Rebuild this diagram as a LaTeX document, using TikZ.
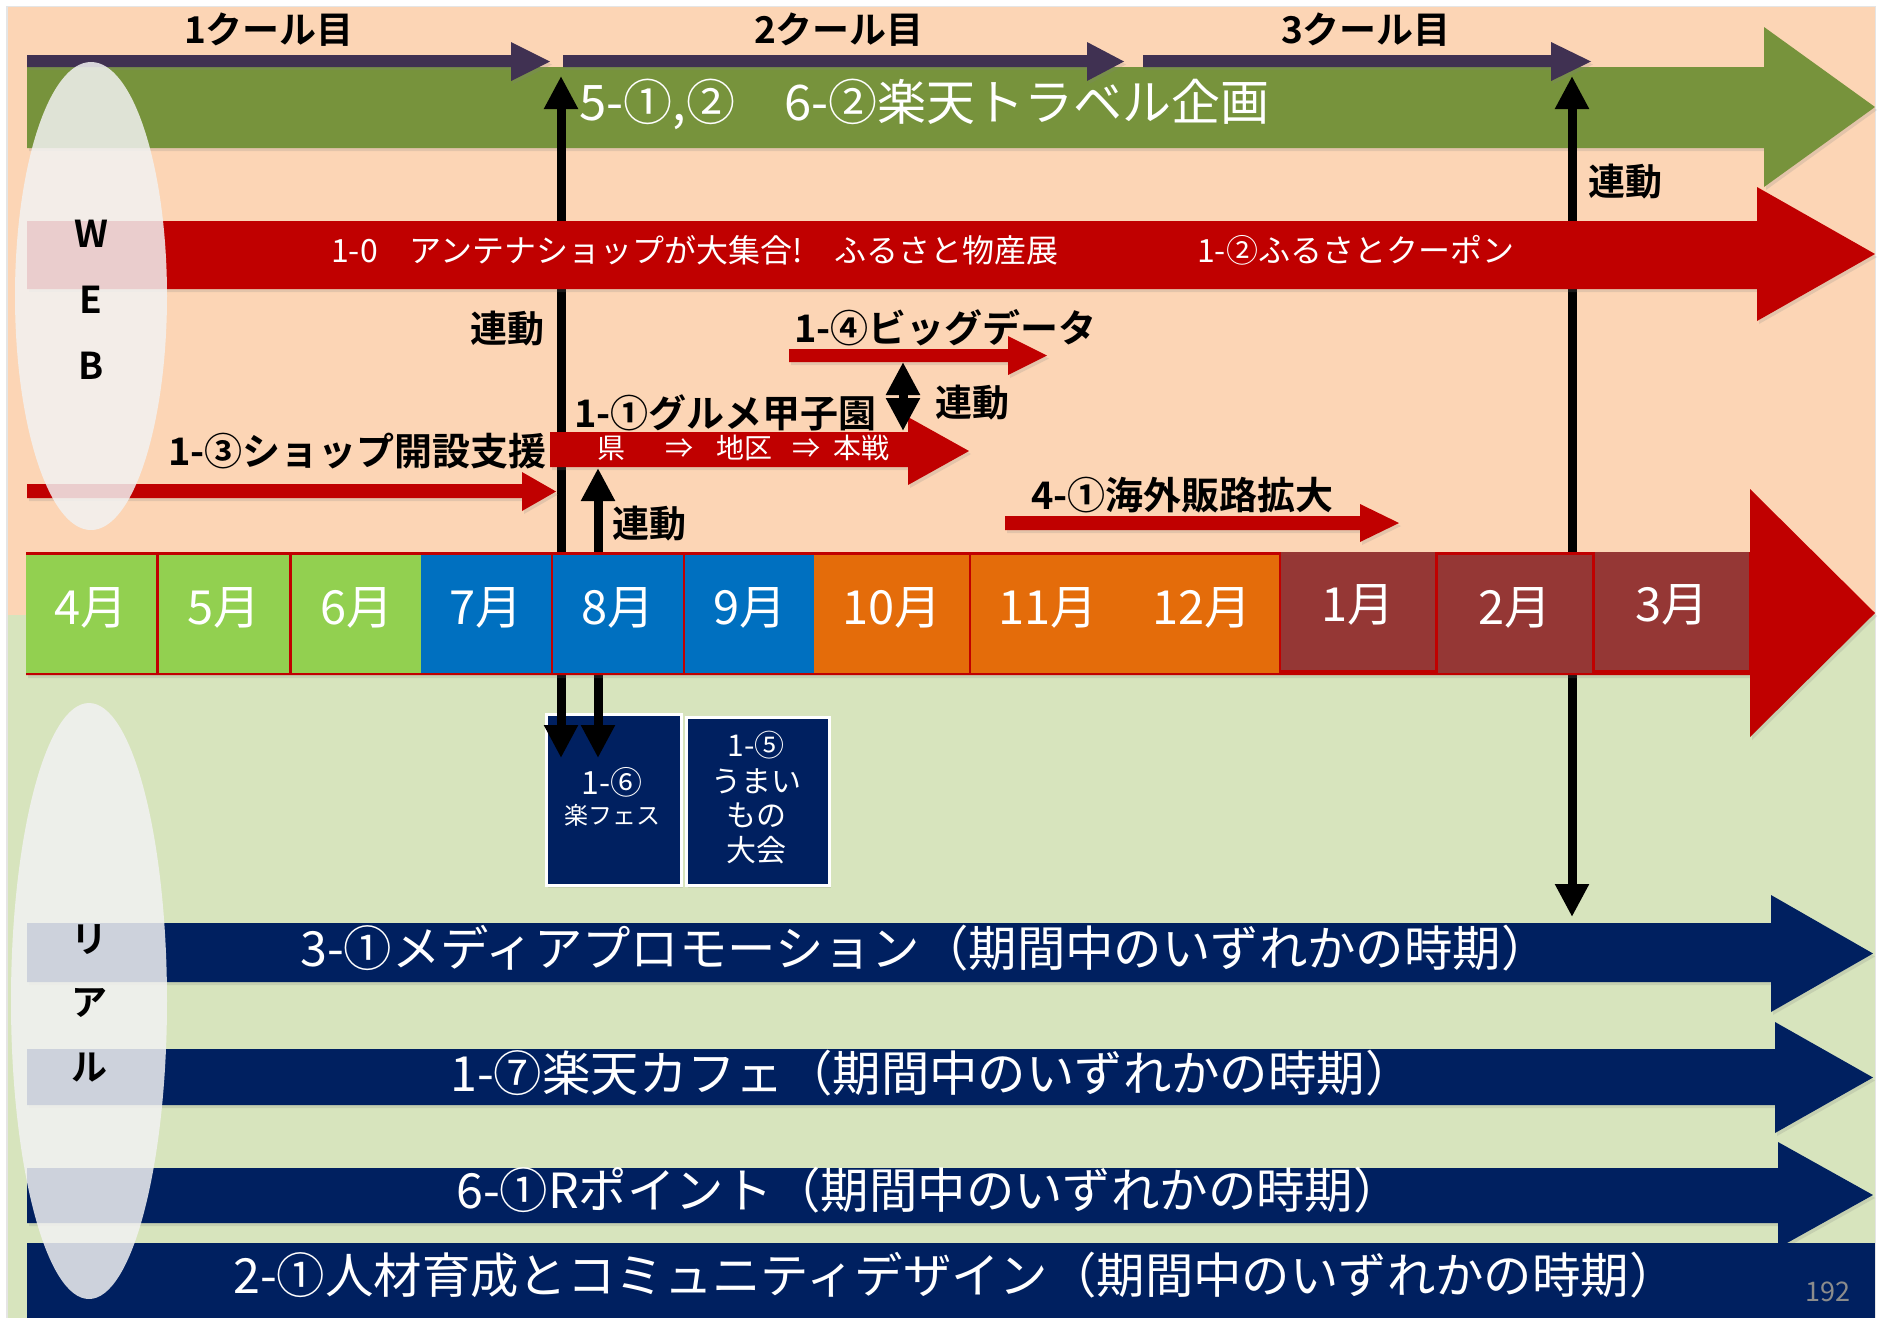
\documentclass[tikz,border=0pt]{standalone}
\usepackage{fontspec}
\setmainfont{Noto Sans CJK JP}[BoldFont={Noto Sans CJK JP Bold}]
\usetikzlibrary{arrows.meta,shadows}
\definecolor{peach}{HTML}{FCD5B5}
\definecolor{lgreen}{HTML}{D7E4BD}
\definecolor{ogreen}{HTML}{77933C}
\definecolor{purp}{HTML}{403152}
\definecolor{red0}{HTML}{C00000}
\definecolor{navy}{HTML}{002060}
\definecolor{mgreen}{HTML}{92D050}
\definecolor{mblue}{HTML}{0070C0}
\definecolor{morange}{HTML}{E46C0A}
\definecolor{mbrown}{HTML}{953735}
\definecolor{ellc}{HTML}{F2F2F2}
\definecolor{pgray}{HTML}{8C8C8C}
\newcommand\fs[1]{\fontsize{#1}{#1}\selectfont}
\newcommand\harr[7]{(#1,#4) -- (#2,#4) -- (#2,#6) -- (#3,{(#6+#7)/2}) -- (#2,#7) -- (#2,#5) -- (#1,#5) -- cycle}
\newcommand\mcell[7]{%
  \node[mcellbox, fill=#6, minimum width={#4-#2}, minimum height={#5-#3}, anchor=north west] (#1) at (#2,#3) {};
  \node[mtxt] (#1t) at ([yshift=6pt]#1.center) {#7};}
\tikzset{
  lbl/.style={inner sep=0pt, text=black, font={\bfseries\fs{38}}},
  wt/.style={inner sep=0pt, text=white},
  dbl/.style={line width=9pt, black, {Triangle[width=32pt,length=33pt]}-{Triangle[width=32pt,length=33pt]}},
  shd/.style={drop shadow={shadow xshift=2pt,shadow yshift=-3pt,opacity=0.2}},
  navybox/.style={fill=navy, draw=white, line width=2.5pt, inner sep=0pt},
  mcellbox/.style={inner sep=0pt},
  mtxt/.style={inner sep=0pt, text=white, font=\fs{47}},
  ell/.style={fill=ellc, fill opacity=0.85},
}
\begin{document}
\begin{tikzpicture}[x=1pt,y=-1pt]
\useasboundingbox (0,0) rectangle (1887,1318);
\fill[white] (0,0) rectangle (1887,1318);
\fill[black!10] (6,6) rectangle (1876,1318);
\fill[peach] (8,7) rectangle (1875,615);
\fill[lgreen] (8,615) rectangle (1875,1318);

% green band arrow
\fill[ogreen, shd] \harr{27}{1764}{1875}{67}{148}{27}{187};
% cour arrows
\fill[purp, shd] \harr{27}{511}{550}{55}{67}{42}{81};
\fill[purp, shd] \harr{563}{1087}{1124}{55}{67}{42}{81};
\fill[purp, shd] \harr{1143}{1551}{1591}{55}{67}{42}{81};

% boxes
\node[navybox, shd, minimum width=135pt, minimum height=171pt, anchor=north west] (b16) at (545,713) {};
\node[navybox, shd, minimum width=143pt, minimum height=168pt, anchor=north west] (b15) at (685,716) {};

% vertical link arrows
\coordinate (v1a) at (561,76);  \coordinate (v1b) at (561,758);
\coordinate (v2a) at (598,468); \coordinate (v2b) at (598,758);
\coordinate (v3a) at (1572,76); \coordinate (v3b) at (1572,917);
\coordinate (v4a) at (903,362); \coordinate (v4b) at (903,431);
\draw[dbl] (v1a) -- (v1b);
\draw[dbl] (v2a) -- (v2b);
\draw[dbl] (v3a) -- (v3b);

% red arrows
\fill[red0, shd] \harr{27}{1757}{1875}{221}{289}{187}{321};
\fill[red0, shd] \harr{789}{1008}{1047}{349}{362}{336}{375};
\fill[red0, shd] \harr{27}{522}{556}{484}{498}{472}{511};
\fill[red0, shd] \harr{550}{908}{969}{432}{467}{417}{485};
\fill[red0, shd] \harr{1005}{1360}{1399}{516}{530}{504}{542};
\draw[dbl] (v4a) -- (v4b);

% month bar
\fill[red0, shd] \harr{26}{1750}{1875}{552}{675}{489}{737};
\mcell{m4}{26}{555}{156}{673}{mgreen}{4月}
\mcell{m5}{159}{555}{289}{673}{mgreen}{5月}
\mcell{m6}{292}{555}{421}{673}{mgreen}{6月}
\mcell{m7}{421}{555}{551}{673}{mblue}{7月}
\mcell{m8}{553}{555}{683}{673}{mblue}{8月}
\mcell{m9}{685}{555}{814}{673}{mblue}{9月}
\mcell{m10}{814}{555}{969}{673}{morange}{10月}
\mcell{m11}{971}{555}{1124}{673}{morange}{11月}
\mcell{m12}{1124}{555}{1279}{673}{morange}{12月}
\mcell{m1}{1281}{552}{1435}{670}{mbrown}{1月}
\mcell{m2}{1438}{555}{1592}{673}{mbrown}{2月}
\mcell{m3}{1595}{552}{1749}{670}{mbrown}{3月}

% navy arrows
\fill[navy, shd] \harr{27}{1771}{1873}{923}{982}{895}{1012};
\fill[navy, shd] \harr{27}{1775}{1873}{1049}{1105}{1022}{1133};
\fill[navy, shd] \harr{27}{1778}{1873}{1168}{1223}{1142}{1248};
\fill[navy] (27,1243) rectangle (1875,1318);

% ellipses
\fill[ell] (91,296) ellipse [x radius=76, y radius=234];
\fill[ell] (89,1001) ellipse [x radius=78, y radius=298];

% texts
\node[lbl, font={\bfseries\fs{37}}] (c1) at (269,30) {1クール目};
\node[lbl, font={\bfseries\fs{37}}] (c2) at (839,30) {2クール目};
\node[lbl, font={\bfseries\fs{37}}] (c3) at (1366,30) {3クール目};

\node[wt, anchor=west, font=\fs{49}] (t56) at (579,104) {5-①,②　6-②楽天トラベル企画};
\node[wt, anchor=west, font=\fs{32}] (t10) at (331,250) {1-0　アンテナショップが大集合!　ふるさと物産展};
\node[wt, anchor=west, font=\fs{32}] (t12) at (1197,250) {1-②ふるさとクーポン};

\node[lbl, font={\bfseries\fs{37}}] (r1) at (507,329) {連動};
\node[lbl, font={\bfseries\fs{37}}] (r2) at (972,403) {連動};
\node[lbl, font={\bfseries\fs{37}}] (r3) at (649,524) {連動};
\node[lbl, font={\bfseries\fs{37}}] (r4) at (1625,182) {連動};

\node[lbl, anchor=west] (l14) at (794,328) {1-④ビッグデータ};
\node[lbl, anchor=west] (l13) at (168,451) {1-③ショップ開設支援};
\node[lbl, anchor=west] (l11) at (574,413) {1-①グルメ甲子園};
\node[lbl, anchor=west] (l41) at (1031,495) {4-①海外販路拡大};
\node[wt, anchor=west, font=\fs{28}] (t11) at (597,448) {県\hspace{40pt}\makebox[28pt]{⇒}\hspace{23pt}地区\hspace{20pt}\makebox[28pt]{⇒}\hspace{13pt}本戦};

\node[lbl, font={\bfseries\fs{37}}] (w1) at (91,234) {W};
\node[lbl, font={\bfseries\fs{37}}] (w2) at (91,300) {E};
\node[lbl, font={\bfseries\fs{37}}] (w3) at (91,366) {B};
\node[lbl, font={\bfseries\fs{36}}] (q1) at (89,940) {リ};
\node[lbl, font={\bfseries\fs{36}}] (q2) at (89,1003) {ア};
\node[lbl, font={\bfseries\fs{36}}] (q3) at (89,1068) {ル};

\node[wt, font=\fs{32}] (b16a) at (612,782) {1-⑥};
\node[wt, font=\fs{24}] (b16b) at (612,815) {楽フェス};
\node[wt, font=\fs{30}] (b15a) at (756,745) {1-⑤};
\node[wt, font=\fs{30}] (b15b) at (756,781) {うまい};
\node[wt, font=\fs{30}] (b15c) at (756,815) {もの};
\node[wt, font=\fs{30}] (b15d) at (756,850) {大会};

\node[wt, anchor=west, font=\fs{48.4}] (n31) at (300,948) {3-①メディアプロモーション（期間中のいずれかの時期）};
\node[wt, anchor=west, font=\fs{48.4}] (n17) at (450,1073) {1-⑦楽天カフェ（期間中のいずれかの時期）};
\node[wt, anchor=west, font=\fs{48.4}] (n61) at (456,1190) {6-①Rポイント（期間中のいずれかの時期）};
\node[wt, anchor=west, font=\fs{48.4}] (n21) at (233,1275) {2-①人材育成とコミュニティデザイン（期間中のいずれかの時期）};
\node[inner sep=0pt, text=pgray, font=\fs{27}] (pg) at (1828,1292) {192};
\end{tikzpicture}
\end{document}
